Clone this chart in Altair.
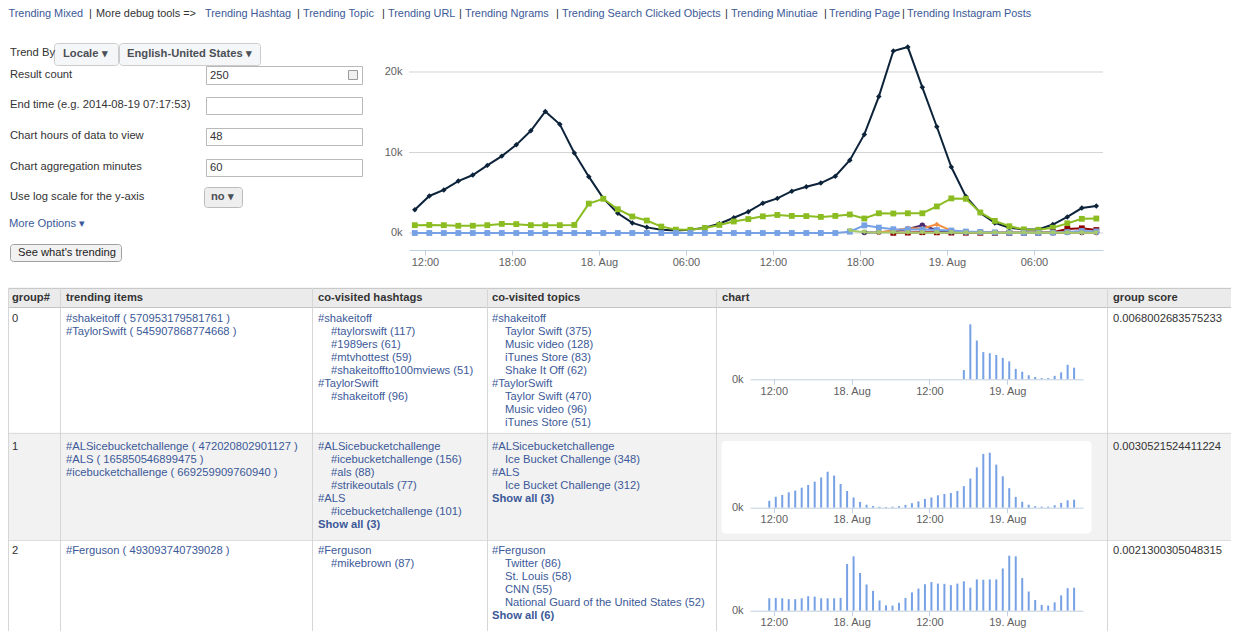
import altair as alt
import pandas as pd

FONT = "Liberation Sans"
FS = 11.2
FS_HEADER = 10.9
W, H = 1223, 623
LINK, DARK, AXIS_TXT = "#3b5998", "#333333", "#606060"


def px(v):
    """page x pixel (8px body margin) -> chart x"""
    return v - 8


def py(v):
    """page y pixel (8px body margin) -> chart y"""
    return v - 8


# ---------------------------------------------------------------- data
times = pd.date_range("2014-08-17 11:18", periods=48, freq="h")
hours = [round((t - pd.Timestamp("2014-08-17")) / pd.Timedelta(hours=1), 3) for t in times]

# thousands of hits per hour
als_k = [2.9, 4.6, 5.35, 6.45, 7.2, 8.4, 9.55, 10.95, 12.7, 15.1, 13.5, 9.95,
         7.0, 4.3, 2.45, 1.25, 0.7, 0.4, 0.3, 0.4, 0.65, 1.15, 1.9, 2.65,
         3.7, 4.3, 5.2, 5.75, 6.2, 7.05, 9.05, 12.25, 16.95, 22.6, 23.1, 18.1,
         13.2, 8.2, 4.55, 2.5, 1.25, 0.65, 0.45, 0.45, 1.05, 2.0, 3.1, 3.35]
ferguson_k = [0.97, 1.0, 0.97, 0.9, 0.9, 0.97, 1.13, 1.1, 0.97, 0.97, 0.97, 1.0,
              3.65, 4.25, 2.95, 2.05, 1.55, 0.8, 0.42, 0.4, 0.62, 1.0, 1.43, 1.73,
              2.07, 2.24, 2.12, 2.1, 2.0, 2.12, 2.3, 1.8, 2.45, 2.42, 2.45, 2.45,
              3.3, 4.3, 4.25, 2.55, 1.5, 0.84, 0.45, 0.4, 0.65, 1.2, 1.76, 1.8]
shakeitoff_k = [0, 0, 0, 0, 0, 0, 0, 0, 0, 0, 0, 0,
                0, 0, 0, 0, 0, 0, 0, 0, 0, 0, 0, 0,
                0, 0, 0, 0, 0, 0, 0.16, 0.95, 0.67, 0.47, 0.45, 0.42,
                0.37, 0.31, 0.18, 0.13, 0.07, 0.04, 0.02, 0.02, 0.06, 0.12, 0.25, 0.2]
group3_k = [0.02, 0.05, 0.1, 0.08, 0.05, 0.04, 0.03, 0.02, 0.02, 0.02, 0.02, 0.1, 0.5, 0.58, 0.37]
group4_k = [0.05, 0.1, 0.22, 0.5, 0.95, 0.35, 0.1, 0.06, 0.05, 0.04, 0.04, 0.03, 0.03, 0.03, 0.05, 0.06, 0.05]
group5_k = [0.05, 0.3, 0.6, 0.55, 1.07, 0.3, 0.1, 0.05, 0.04, 0.03, 0.03, 0.03, 0.04, 0.05, 0.05, 0.04]
group6_k = [0.3, 0.1, 0.05, 0.05, 0.04, 0.04, 0.04, 0.04, 0.03, 0.03, 0.03, 0.03, 0.03, 0.03, 0.03, 0.03, 0.03, 0.03]

# (name, colour, marker, first hour index, values) in drawing order
main_series = [
    ("#ALSicebucketchallenge", "#0d233a", "diamond", 0, als_k),
    ("#Ferguson", "#8bbc21", "square", 0, ferguson_k),
    ("group 3", "#910000", "square", 33, group3_k),
    ("group 4", "#492970", "circle", 31, group4_k),
    ("group 5", "#f28f43", "diamond", 32, group5_k),
    ("#shakeitoff", "#77a1e5", "square", 0, shakeitoff_k),
    ("group 6", "#a6c96a", "triangle-down", 30, group6_k),
]

header_links = ["Trending Mixed", "|", "More debug tools =>", "Trending Hashtag", "|",
                "Trending Topic", "|", "Trending URL", "|", "Trending Ngrams", "|",
                "Trending Search Clicked Objects", "|", "Trending Minutiae", "|",
                "Trending Page", "|", "Trending Instagram Posts"]
form_labels = ["Trend By", "Result count", "End time (e.g. 2014-08-19 07:17:53)",
               "Chart hours of data to view", "Chart aggregation minutes",
               "Use log scale for the y-axis"]
input_values = ["250", "", "48", "60"]
table_headers = ["group#", "trending items", "co-visited hashtags", "co-visited topics",
                 "chart", "group score"]

# each row: group#, trending items, hashtags, topics, score ; items are (text, indent, style)
table_rows = [
    {
        "group": "0",
        "items": [("#shakeitoff ( 570953179581761 )", 0, "link"),
                  ("#TaylorSwift ( 545907868774668 )", 0, "link")],
        "hashtags": [("#shakeitoff", 0, "link"), ("#taylorswift (117)", 1, "link"),
                     ("#1989ers (61)", 1, "link"), ("#mtvhottest (59)", 1, "link"),
                     ("#shakeitoffto100mviews (51)", 1, "link"), ("#TaylorSwift", 0, "link"),
                     ("#shakeitoff (96)", 1, "link")],
        "topics": [("#shakeitoff", 0, "link"), ("Taylor Swift (375)", 1, "link"),
                   ("Music video (128)", 1, "link"), ("iTunes Store (83)", 1, "link"),
                   ("Shake It Off (62)", 1, "link"), ("#TaylorSwift", 0, "link"),
                   ("Taylor Swift (470)", 1, "link"), ("Music video (96)", 1, "link"),
                   ("iTunes Store (51)", 1, "link")],
        "score": "0.0068002683575233",
        "chart": shakeitoff_k,
    },
    {
        "group": "1",
        "items": [("#ALSicebucketchallenge ( 472020802901127 )", 0, "link"),
                  ("#ALS ( 165850546899475 )", 0, "link"),
                  ("#icebucketchallenge ( 669259909760940 )", 0, "link")],
        "hashtags": [("#ALSicebucketchallenge", 0, "link"), ("#icebucketchallenge (156)", 1, "link"),
                     ("#als (88)", 1, "link"), ("#strikeoutals (77)", 1, "link"),
                     ("#ALS", 0, "link"), ("#icebucketchallenge (101)", 1, "link"),
                     ("Show all (3)", 0, "bold")],
        "topics": [("#ALSicebucketchallenge", 0, "link"), ("Ice Bucket Challenge (348)", 1, "link"),
                   ("#ALS", 0, "link"), ("Ice Bucket Challenge (312)", 1, "link"),
                   ("Show all (3)", 0, "bold")],
        "score": "0.0030521524411224",
        "chart": als_k,
    },
    {
        "group": "2",
        "items": [("#Ferguson ( 493093740739028 )", 0, "link")],
        "hashtags": [("#Ferguson", 0, "link"), ("#mikebrown (87)", 1, "link")],
        "topics": [("#Ferguson", 0, "link"), ("Twitter (86)", 1, "link"),
                   ("St. Louis (58)", 1, "link"), ("CNN (55)", 1, "link"),
                   ("National Guard of the United States (52)", 1, "link"),
                   ("Show all (6)", 0, "bold")],
        "score": "0.0021300305048315",
        "chart": ferguson_k,
    },
]

# ---------------------------------------------------------------- layout (page px)
header_x = [8.5, 89, 96, 205, 297, 303, 382, 388, 459, 465, 556, 562, 725, 731, 824, 829, 902, 907]
HEADER_Y = 13.5
form_label_y = [53, 75, 105, 136, 167, 197]
input_box_y = [(66, 84), (97, 114), (128, 145), (159, 176)]
col_lines = [8.5, 60.5, 312.5, 487.5, 716.5, 1107.5]
col_text_x = [12, 66, 318, 492, None, 1113]
row_first_line = [319, 447, 551]
mini_baselines = [379.3, 507.7, 610.7]
LINE_H = 13
INDENT = 13

texts = []   # text, x, y, colour, weight, font size


def add_text(t, x, y, c=DARK, w="normal", fs=FS):
    texts.append({"t": t, "x": px(x), "y": py(y), "c": c, "w": w, "fs": fs})


for t, x in zip(header_links, header_x):
    add_text(t, x, HEADER_Y, LINK if t.startswith("Trending") else DARK, fs=FS_HEADER)

for t, y in zip(form_labels, form_label_y):
    add_text(t, 10, y)
add_text("More Options ▾", 9, 224, LINK)
for v, (y0, y1) in zip(input_values, input_box_y):
    add_text(v, 210, (y0 + y1) / 2 + 0.5)
add_text("Locale ▾", 63, 54, "#4b4f56", "bold")
add_text("English-United States ▾", 127, 54, "#4b4f56", "bold")
add_text("no ▾", 211, 197, "#4b4f56", "bold")
add_text("See what's trending", 18, 253, "#222222")

for t, x in zip(table_headers, [12, 66, 318, 492, 722, 1113]):
    add_text(t, x, 297.5, DARK, "bold")

style_col = {"link": (LINK, "normal"), "bold": (LINK, "bold"), "dark": (DARK, "normal")}
for r, row in enumerate(table_rows):
    y0 = row_first_line[r]
    add_text(row["group"], col_text_x[0], y0)
    add_text(row["score"], col_text_x[5], y0)
    for key, ci in (("items", 1), ("hashtags", 2), ("topics", 3)):
        for i, (t, ind, st) in enumerate(row[key]):
            c, w = style_col[st]
            add_text(t, col_text_x[ci] + ind * INDENT, y0 + i * LINE_H, c, w)

rects = []     # square rectangles
rrects = []    # rounded rectangles


def add_rect(lst, x0, x1, y0, y1, fill, stroke):
    lst.append({"x": px(x0), "x2": px(x1), "y": py(y0), "y2": py(y1), "f": fill, "s": stroke})


add_rect(rects, 9, 1239, 288, 307, "#ebebeb", "#ebebeb")
add_rect(rects, 9, 1239, 433, 540, "#f2f2f2", "#f2f2f2")
for (y0, y1) in input_box_y:
    add_rect(rects, 206.5, 362.5, y0 + 0.5, y1 + 0.5, "#ffffff", "#b9b9b9")
add_rect(rects, 348.5, 357.5, 70.5, 79.5, "#f0f0f0", "#9a9a9a")
add_rect(rrects, 54.5, 118.5, 43.5, 65.5, "#f5f6f7", "#cccccc")
add_rect(rrects, 119.5, 260.5, 43.5, 65.5, "#f5f6f7", "#cccccc")
add_rect(rrects, 204.5, 242.5, 187.5, 207.5, "#eeeeee", "#bbbbbb")
add_rect(rrects, 10.5, 121.5, 244.5, 261.5, "#f2f2f2", "#a0a0a0")
add_rect(rrects, 722, 1091, 441.5, 533, "#ffffff", "#ffffff")

rules = []
for y, c in ((288.5, "#c9c9c9"), (307.5, "#c4c4c4"), (433.5, "#dddddd"), (540.5, "#dddddd")):
    rules.append({"x": px(8), "x2": px(1239), "y": py(y), "y2": py(y), "c": c})
for x in col_lines:
    rules.append({"x": px(x), "x2": px(x), "y": py(288), "y2": py(640), "c": "#d6d6d6"})

PX = dict(scale=None, axis=None)

ui_layers = [
    alt.Chart(pd.DataFrame(rects)).mark_rect(strokeWidth=1).encode(
        x=alt.X("x:Q", **PX), x2="x2:Q", y=alt.Y("y:Q", **PX), y2="y2:Q",
        fill=alt.Fill("f:N", scale=None), stroke=alt.Stroke("s:N", scale=None)),
    alt.Chart(pd.DataFrame(rrects)).mark_rect(strokeWidth=1, cornerRadius=3).encode(
        x=alt.X("x:Q", **PX), x2="x2:Q", y=alt.Y("y:Q", **PX), y2="y2:Q",
        fill=alt.Fill("f:N", scale=None), stroke=alt.Stroke("s:N", scale=None)),
    alt.Chart(pd.DataFrame(rules)).mark_rule(strokeWidth=1).encode(
        x=alt.X("x:Q", **PX), x2="x2:Q", y=alt.Y("y:Q", **PX), y2="y2:Q",
        color=alt.Color("c:N", scale=None)),
]
tdf = pd.DataFrame(texts)
for w in ("normal", "bold"):
    ui_layers.append(
        alt.Chart(tdf[tdf.w == w]).mark_text(align="left", baseline="middle", font=FONT,
                                             fontWeight=w).encode(
            x=alt.X("x:Q", **PX), y=alt.Y("y:Q", **PX), text="t:N",
            size=alt.Size("fs:Q", scale=None, legend=None),
            color=alt.Color("c:N", scale=None)))

# ---------------------------------------------------------------- main line chart
HOUR_LABEL = ("datum.value == 24 ? '18. Aug' : datum.value == 48 ? '19. Aug' : "
              "(datum.value % 24 < 10 ? '0' : '') + (datum.value % 24) + ':00'")
axis_common = dict(title=None, grid=False, labelFont=FONT, labelFontSize=11,
                   labelColor=AXIS_TXT, labelOverlap=False, labelFlush=False, zindex=2)

mx_scale = alt.Scale(domain=[10.9, 58.76], range=[px(409), px(1103)], zero=False, nice=False)
my_scale = alt.Scale(domain=[-2.112, 25], range=[py(250), py(31.75)], zero=False, nice=False)
mx_axis = alt.Axis(orient="bottom", offset=py(250) - H, values=[12, 18, 24, 30, 36, 42, 48, 54],
                   labelExpr=HOUR_LABEL, domainColor="#C0D0E0", tickColor="#C0D0E0",
                   tickSize=5, labelPadding=1, **axis_common)
my_axis = alt.Axis(orient="left", offset=-px(409), values=[0, 10, 20],
                   labelExpr="datum.value + 'k'", domain=False, ticks=False,
                   labelPadding=7, **axis_common)

grid_df = pd.DataFrame({"v": [0, 10, 20], "xa": [10.9] * 3, "xb": [58.76] * 3})
main_layers = [alt.Chart(grid_df).mark_rule(color="#d4d4d4", strokeWidth=1).encode(
    x=alt.X("xa:Q", scale=mx_scale, axis=mx_axis), x2="xb:Q",
    y=alt.Y("v:Q", scale=my_scale, axis=my_axis))]
for name, color, shape, start, vals in main_series:
    df = pd.DataFrame({"h": hours[start:start + len(vals)], "v": vals, "series": name})
    enc = dict(x=alt.X("h:Q", scale=mx_scale, axis=mx_axis),
               y=alt.Y("v:Q", scale=my_scale, axis=my_axis))
    main_layers.append(alt.Chart(df).mark_line(color=color, strokeWidth=2).encode(**enc))
    main_layers.append(alt.Chart(df).mark_point(shape=shape, filled=True, color=color,
                                                opacity=1, size=30 if shape != "square" else 34,
                                                strokeWidth=0).encode(**enc))
main_chart = alt.layer(*main_layers)


# ---------------------------------------------------------------- mini column charts
def mini_chart(vals, base_page):
    base = py(base_page)
    df = pd.DataFrame({"h": hours, "v": vals})
    xs = alt.Scale(domain=[9.1, 58.9], range=[px(750), px(1083)], zero=False, nice=False)
    ys = alt.Scale(domain=[0, max(vals)], range=[base, base - 55], nice=False)
    xa = alt.Axis(orient="bottom", offset=base - H, values=[12, 24, 36, 48], labelExpr=HOUR_LABEL,
                  domainColor="#C0D0E0", tickColor="#C0D0E0", tickSize=5, labelPadding=1,
                  **axis_common)
    ya = alt.Axis(orient="left", offset=-px(750), values=[0], labelExpr="'0k'",
                  domain=False, ticks=False, labelPadding=7, **axis_common)
    return alt.Chart(df).mark_bar(size=2, color="#77a1e5").encode(
        x=alt.X("h:Q", scale=xs, axis=xa), y=alt.Y("v:Q", scale=ys, axis=ya))


minis = [mini_chart(row["chart"], b) for row, b in zip(table_rows, mini_baselines)]

chart = alt.layer(*ui_layers, main_chart, *minis).resolve_scale(
    x="independent", y="independent").resolve_axis(
    x="independent", y="independent").properties(
    width=W, height=H, padding=0,
    background="white", autosize=alt.AutoSizeParams(type="none")).configure_view(stroke=None)

chart.save("out.html", embed_options={"renderer": "svg", "actions": False})
